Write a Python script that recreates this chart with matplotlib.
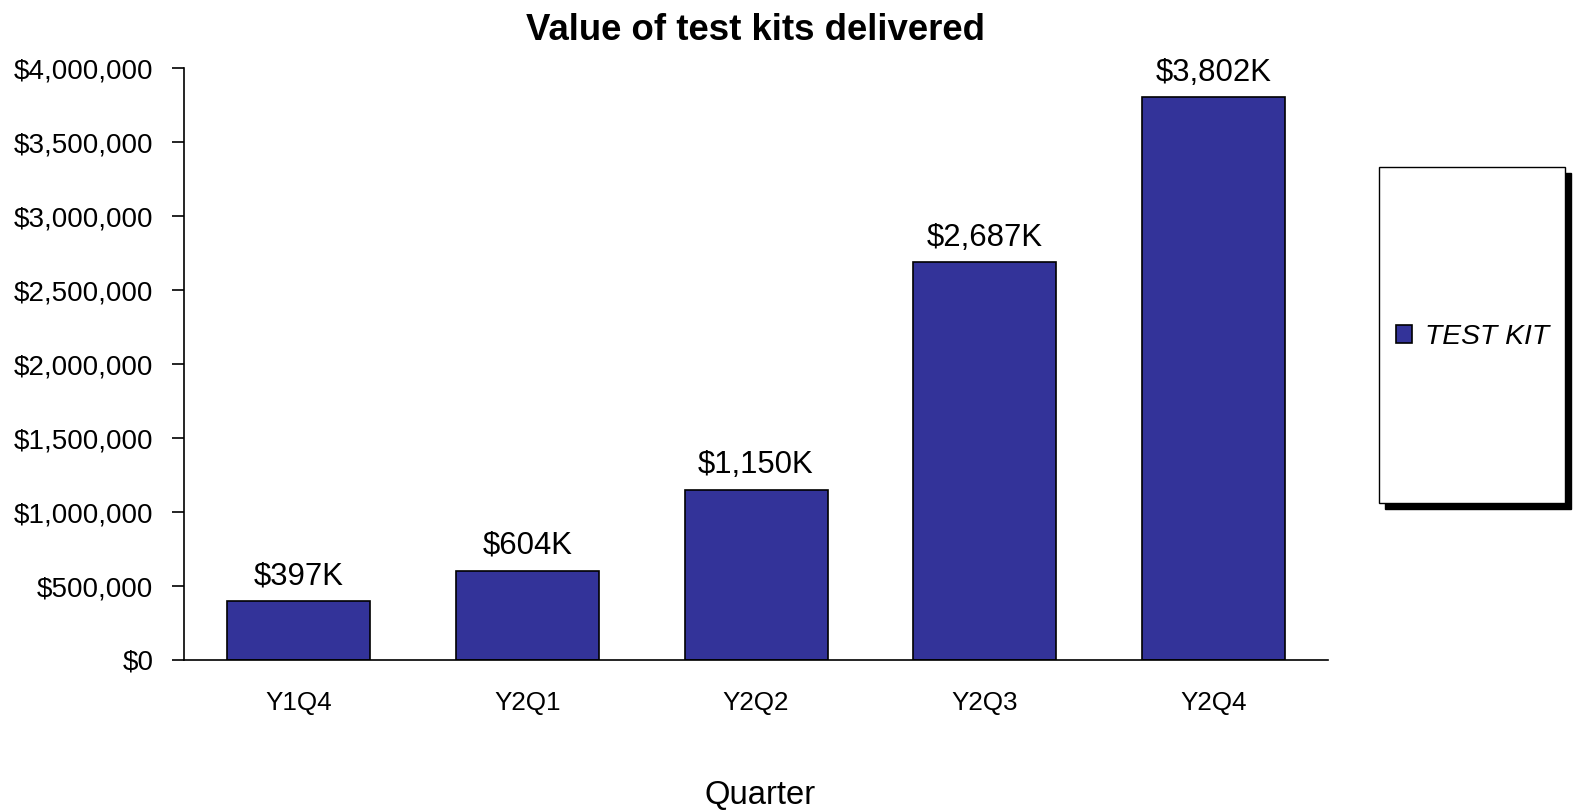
import matplotlib
matplotlib.use("Agg")
import matplotlib.pyplot as plt
from matplotlib.patches import Rectangle
from matplotlib.ticker import FuncFormatter

quarters = ["Y1Q4", "Y2Q1", "Y2Q2", "Y2Q3", "Y2Q4"]
values = [397000, 604000, 1150000, 2687000, 3802000]
series_name = "TEST KIT"
title = "Value of test kits delivered"
xlabel = "Quarter"

plt.rcParams['font.family'] = ['Liberation Sans', 'DejaVu Sans']

W, H = 1573, 811
fig = plt.figure(figsize=(W / 100, H / 100), dpi=100)
ax = fig.add_axes([184 / W, 1 - 660 / H, (1328 - 184) / W, (660 - 68) / H])

x = list(range(len(quarters)))
bars = ax.bar(x, values, width=0.625, color="#333399", edgecolor="black", linewidth=1.2, label=series_name)
for xi, v in zip(x, values):
    ax.annotate(f"${v/1000:,.0f}K", (xi, v), xytext=(0, 7), textcoords="offset points",
                ha="center", va="bottom", fontsize=22.4)

ax.set_xlim(-0.5, len(quarters) - 0.5)
ax.set_ylim(0, 4000000)
ax.set_yticks(range(0, 4000001, 500000))
ax.yaxis.set_major_formatter(FuncFormatter(lambda v, p: f"${v:,.0f}"))
ax.set_xticks(x)
ax.set_xticklabels(quarters)
ax.tick_params(axis="y", direction="out", length=9, width=1.2, labelsize=20, pad=13)
ax.tick_params(axis="x", length=0, labelsize=18.7, pad=22)
for s in ["top", "right"]:
    ax.spines[s].set_visible(False)
for s in ["left", "bottom"]:
    ax.spines[s].set_linewidth(1.2)
ax.set_title(title, fontsize=26.4, fontweight="bold", pad=20)
fig.text(760 / W, 1 - 804 / H, xlabel, ha="center", va="baseline", fontsize=23.6)

# legend box with shadow
lx0, ly0, lx1, ly1 = 1379, 167, 1565, 503
sh = 6
fig.patches.append(Rectangle(((lx0 + sh) / W, 1 - (ly1 + sh) / H), (lx1 - lx0) / W, (ly1 - ly0) / H,
                             transform=fig.transFigure, facecolor="black", edgecolor="black", zorder=0))
fig.patches.append(Rectangle((lx0 / W, 1 - ly1 / H), (lx1 - lx0) / W, (ly1 - ly0) / H,
                             transform=fig.transFigure, facecolor="white", edgecolor="black", linewidth=1, zorder=1))
leg = fig.legend(handles=[bars], labels=[series_name], loc="center",
                 bbox_to_anchor=((1398 + 1547) / 2 / W, 1 - 337 / H), frameon=False,
                 prop={"size": 20.3, "style": "italic"}, handlelength=0.58, handleheight=0.58, handletextpad=0.45)

fig.savefig("out.png", dpi=100)
